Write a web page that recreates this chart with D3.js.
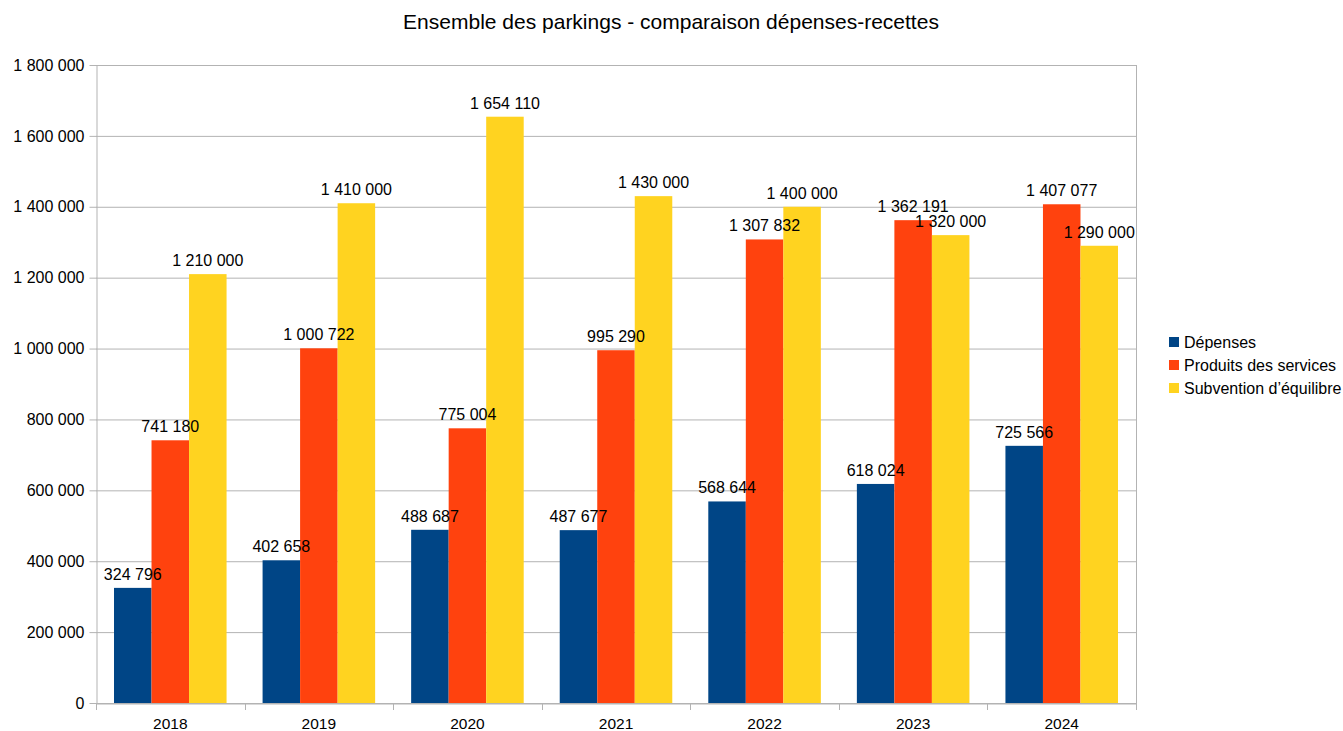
<!DOCTYPE html>
<html><head><meta charset="utf-8">
<script src="https://cdn.jsdelivr.net/npm/d3@7"></script>
<style>body{margin:0;background:#fff;} svg{display:block;font-family:"Liberation Sans",Arial,sans-serif;}</style>
</head><body>
<script>
const years = ["2018","2019","2020","2021","2022","2023","2024"];
const depenses = [324796, 402658, 488687, 487677, 568644, 618024, 725566];
const produits = [741180, 1000722, 775004, 995290, 1307832, 1362191, 1407077];
const subvention = [1210000, 1410000, 1654110, 1430000, 1400000, 1320000, 1290000];
const seriesNames = ["Dépenses", "Produits des services", "Subvention d’équilibre"];
const colors = ["#004586", "#ff420e", "#ffd320"];
const yTicks = [0, 200000, 400000, 600000, 800000, 1000000, 1200000, 1400000, 1600000, 1800000];
const title = "Ensemble des parkings - comparaison dépenses-recettes";

const W = 1343, H = 731;
const m = {left: 96, right: 1136, top: 65, bottom: 703};
const fmt = v => d3.format(",")(v).replace(/,/g, " ");

const svg = d3.select("body").append("svg").attr("width", W).attr("height", H);
const x = d3.scaleBand().domain(years).range([m.left, m.right]).paddingInner(0).paddingOuter(0);
const x1 = d3.scaleBand().domain([0,1,2]).range([0, x.bandwidth()]).paddingOuter(0.48).paddingInner(0);
const y = d3.scaleLinear().domain([0, 1800000]).range([m.bottom, m.top]);

// grid
svg.append("g").selectAll("line").data(yTicks).join("line")
  .attr("x1", m.left).attr("x2", m.right)
  .attr("y1", d => y(d)+0.5).attr("y2", d => y(d)+0.5)
  .attr("stroke", "#b3b3b3").attr("stroke-width", 1);
svg.append("line").attr("x1", m.right+0.5).attr("x2", m.right+0.5).attr("y1", m.top).attr("y2", m.bottom)
  .attr("stroke", "#b3b3b3");

// y axis
const yAxis = svg.append("g").attr("transform", `translate(${m.left+0.5},0)`)
  .call(d3.axisLeft(y).tickValues(yTicks).tickFormat(fmt).tickSizeInner(7).tickSizeOuter(0).tickPadding(5));
yAxis.select(".domain").attr("stroke", "#b3b3b3");
yAxis.selectAll(".tick line").attr("stroke", "#b3b3b3");
yAxis.selectAll("text").attr("font-size", 16).attr("fill", "#000").attr("font-family", "Liberation Sans, Arial, sans-serif");
yAxis.selectAll(".tick").attr("transform", d => `translate(0,${y(d)+0.5})`);

// x axis
const xAxis = svg.append("g").attr("transform", `translate(0,${m.bottom+0.5})`)
  .call(d3.axisBottom(x).tickSize(0).tickPadding(14));
xAxis.select(".domain").attr("stroke", "#b3b3b3");
xAxis.selectAll("text").attr("font-size", 15.5).attr("fill", "#000").attr("font-family", "Liberation Sans, Arial, sans-serif");
svg.append("g").selectAll("line").data(d3.range(years.length+1)).join("line")
  .attr("x1", i => Math.round(m.left + i*x.step())+0.5).attr("x2", i => Math.round(m.left + i*x.step())+0.5)
  .attr("y1", m.bottom).attr("y2", m.bottom+7).attr("stroke", "#b3b3b3");

// bars
const series = [depenses, produits, subvention];
series.forEach((vals, s) => {
  const g = svg.append("g");
  g.selectAll("rect").data(vals).join("rect")
    .attr("x", (d,i) => x(years[i]) + x1(s))
    .attr("width", x1.bandwidth())
    .attr("y", d => y(d))
    .attr("height", d => y(0) - y(d))
    .attr("fill", colors[s]);
});
// labels with simple overlap avoidance (shift right when colliding with previous label in group)
const labelW = 71, labelH = 12;
years.forEach((yr, i) => {
  let prev = null;
  series.forEach((vals, s) => {
    const v = vals[i];
    let cx = x(yr) + x1(s) + x1.bandwidth()/2;
    const by = y(v) - 8;
    if (prev) {
      const ox = (prev.cx + labelW/2) - (cx - labelW/2);
      const oy = Math.abs(prev.by - by) < labelH;
      if (ox > 0 && oy) cx += 17;
    }
    svg.append("text").attr("x", cx).attr("y", by)
      .attr("text-anchor", "middle").attr("font-size", 16).attr("fill", "#000").text(fmt(v));
    prev = {cx, by};
  });
});

// legend
const lg = svg.append("g");
seriesNames.forEach((n, i) => {
  const cy = 342 + i*23;
  lg.append("rect").attr("x", 1169).attr("y", cy-5).attr("width", 10).attr("height", 10).attr("fill", colors[i]);
  lg.append("text").attr("x", 1184).attr("y", cy+5.5).attr("font-size", 16).text(n);
});

// title
svg.append("text").attr("x", 671).attr("y", 29).attr("text-anchor", "middle").attr("font-size", 21).text(title);
</script>
</body></html>
